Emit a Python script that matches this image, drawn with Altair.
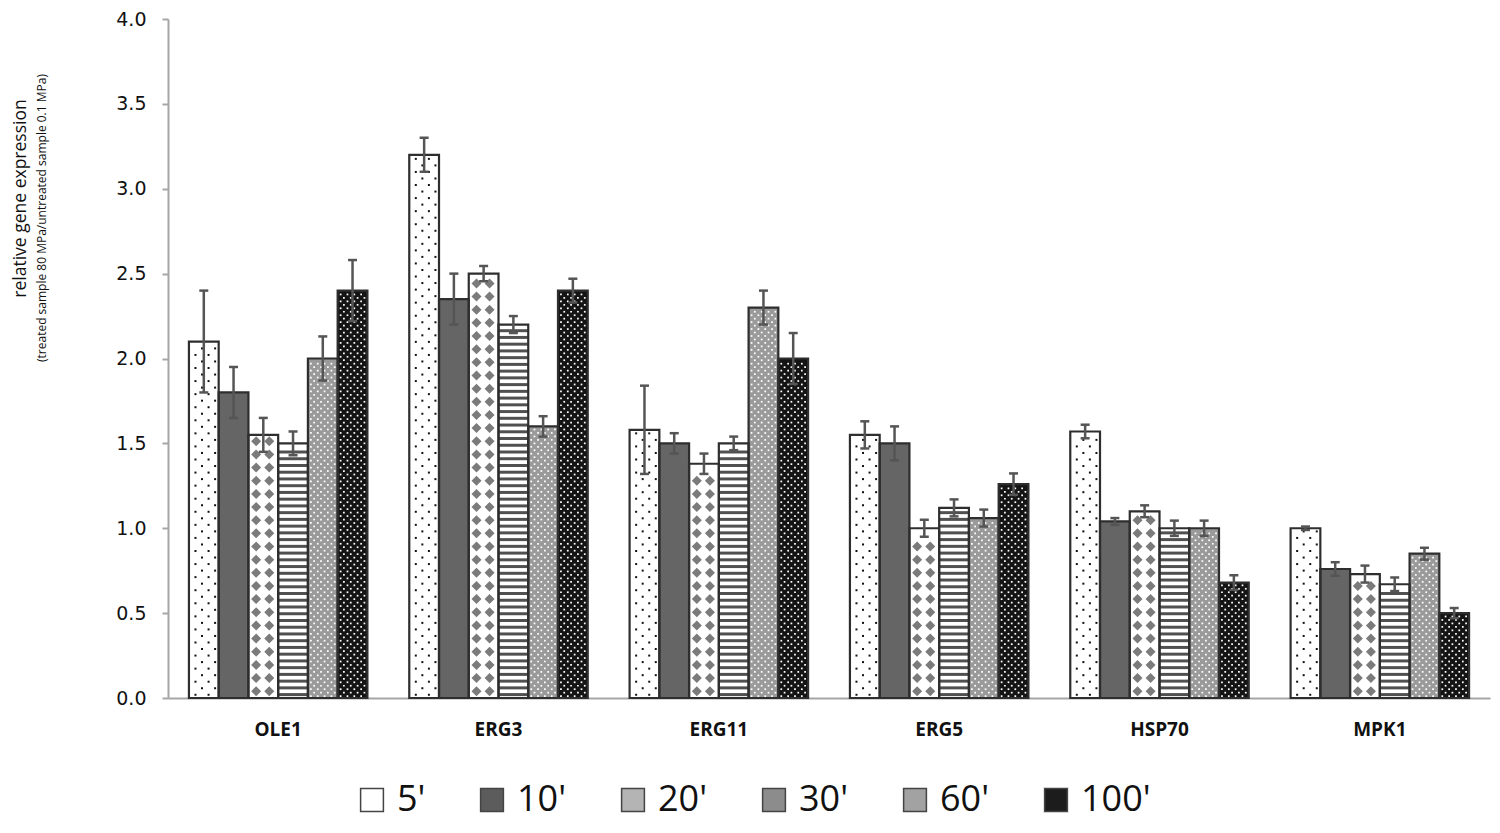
import altair as alt
import pandas as pd

genes = ["OLE1", "ERG3", "ERG11", "ERG5", "HSP70", "MPK1"]
times = ["5'", "10'", "20'", "30'", "60'", "100'"]

# mean relative expression per time point (across genes)
v5 = [2.10, 3.20, 1.58, 1.55, 1.57, 1.00]
v10 = [1.80, 2.35, 1.50, 1.50, 1.04, 0.76]
v20 = [1.55, 2.50, 1.38, 1.00, 1.10, 0.73]
v30 = [1.50, 2.20, 1.50, 1.12, 1.00, 0.67]
v60 = [2.00, 1.60, 2.30, 1.06, 1.00, 0.85]
v100 = [2.40, 2.40, 2.00, 1.26, 0.68, 0.50]

# error bar half-lengths
e5 = [0.30, 0.10, 0.26, 0.08, 0.04, 0.01]
e10 = [0.15, 0.15, 0.06, 0.10, 0.02, 0.04]
e20 = [0.10, 0.045, 0.06, 0.05, 0.035, 0.05]
e30 = [0.07, 0.05, 0.04, 0.05, 0.045, 0.04]
e60 = [0.13, 0.06, 0.10, 0.05, 0.045, 0.035]
e100 = [0.18, 0.07, 0.15, 0.063, 0.043, 0.03]

base_colors = ["#ffffff", "#656565", "#ffffff", "#ffffff", "#9a9a9a", "#141414"]
legend_colors = ["#ffffff", "#5c5c5c", "#b4b4b4", "#8c8c8c", "#a2a2a2", "#1c1c1c"]

title1 = "relative gene expression"
title2 = "(treated sample 80 MPa/untreated sample 0.1 MPa)"

V = [v5, v10, v20, v30, v60, v100]
E = [e5, e10, e20, e30, e60, e100]
rows = []
for ti, t in enumerate(times):
    for gi, g in enumerate(genes):
        rows.append({"gene": g, "time": t, "ti": ti, "value": V[ti][gi],
                     "lo": V[ti][gi] - E[ti][gi], "hi": V[ti][gi] + E[ti][gi]})
df = pd.DataFrame(rows)

AX = "#a6a6a6"
X = alt.X("gene:N", sort=genes,
          scale=alt.Scale(paddingInner=0.19, paddingOuter=0.095),
          axis=alt.Axis(title=None, labelAngle=0, labelFont="Open Sans",
                        labelFontWeight="bold", labelFontSize=19, labelColor="#111",
                        ticks=False, domainColor=AX, domainWidth=2, labelPadding=22))
Y = alt.Y("value:Q", scale=alt.Scale(domain=[0, 4], nice=False),
          axis=alt.Axis(values=[0, 0.5, 1, 1.5, 2, 2.5, 3, 3.5, 4], format=".1f",
                        labelFont="DejaVu Sans", labelFontSize=19, labelColor="#111",
                        domainColor=AX, domainWidth=2, tickColor=AX, tickWidth=2,
                        tickSize=6, labelPadding=16, grid=False,
                        title=title1, titleFont="Open Sans", titleFontSize=17.5,
                        titleFontWeight="normal", titleColor="#111", titleAngle=270,
                        titleX=-148, titleY=179, titleAlign="center",
                        titleBaseline="middle"))
XO = alt.XOffset("time:N", sort=times)
OFFQ = alt.Scale(domain=[0, 6], range=[0, {"expr": "bandwidth('x')"}], nice=False, zero=False)

base = alt.Chart(df)

bars = base.mark_bar(strokeWidth=0).encode(
    x=X, xOffset=XO, y=Y,
    fill=alt.Fill("time:N", sort=times,
                  scale=alt.Scale(range=base_colors), legend=None))

# zero-height bars that only carry the legend
legend_layer = base.mark_bar(strokeWidth=0).encode(
    x=X, xOffset=XO, y=Y, y2=alt.Y2("value:Q"),
    color=alt.Color("time:N", sort=times,
                    scale=alt.Scale(domain=times, range=legend_colors),
                    legend=alt.Legend(title=None, orient="none", legendX=186, legendY=763,
                                      direction="horizontal", columns=6, gridAlign="none",
                                      symbolType="square", symbolSize=520,
                                      symbolOpacity=1, symbolStrokeColor="#444",
                                      symbolStrokeWidth=1.5, labelFont="Open Sans",
                                      labelFontSize=36, labelColor="#111",
                                      labelOffset=7, columnPadding=48, padding=0)))


def dots(ti, r0, step, even, odd, color, size):
    return base.transform_filter(f"datum.ti == {ti}").transform_calculate(
        r=f"sequence({r0}, datum.value - 0.012, {step})"
    ).transform_flatten(["r"]).transform_calculate(
        k=f"round((datum.r - {r0}) / {step})"
    ).transform_calculate(
        c=f"datum.k % 2 == 0 ? {even} : {odd}"
    ).transform_flatten(["c"]).transform_calculate(
        ox="datum.ti + datum.c"
    ).mark_square(size=size, color=color, opacity=1, strokeWidth=0).encode(
        x=X, xOffset=alt.XOffset("ox:Q", scale=OFFQ), y=alt.Y("r:Q"))


dots5 = dots(0, 0.019, 0.0385, "[0.22, 0.66]", "[0.44, 0.88]", "#111", 4)
dots60 = dots(4, 0.011, 0.0204, "[0.1, 0.33, 0.56, 0.79]", "[0.21, 0.44, 0.67, 0.9]", "#ffffff", 3)
dots100 = dots(5, 0.011, 0.0204, "[0.1, 0.33, 0.56, 0.79]", "[0.21, 0.44, 0.67, 0.9]", "#ffffff", 3)

diamonds = base.transform_filter("datum.ti == 2").transform_calculate(
    r="sequence(0.04, datum.value - 0.03, 0.0775)"
).transform_flatten(["r"]).transform_calculate(
    c="[0.26, 0.7]"
).transform_flatten(["c"]).transform_calculate(
    ox="datum.ti + datum.c"
).mark_point(shape="diamond", filled=True, size=100, color="#7b7b7b", opacity=1,
             strokeWidth=0).encode(
    x=X, xOffset=alt.XOffset("ox:Q", scale=OFFQ), y=alt.Y("r:Q"))

stripes = base.transform_filter("datum.ti == 3").transform_calculate(
    r="sequence(0.02, datum.value - 0.02, 0.0397)"
).transform_flatten(["r"]).transform_calculate(
    ox="datum.ti + 0.5"
).mark_tick(thickness=3, size=29, color="#505050", opacity=1).encode(
    x=X, xOffset=alt.XOffset("ox:Q", scale=OFFQ), y=alt.Y("r:Q"))

outline = base.mark_bar(fillOpacity=0, stroke="#2e2e2e", strokeWidth=2.2).encode(
    x=X, xOffset=XO, y=Y)

err_rule = base.mark_rule(color="#555", strokeWidth=2.5).encode(
    x=X, xOffset=XO, y=alt.Y("lo:Q"), y2="hi:Q")
cap_hi = base.mark_tick(color="#555", thickness=2.5, size=9, opacity=1).encode(
    x=X, xOffset=XO, y=alt.Y("hi:Q"))
cap_lo = base.mark_tick(color="#555", thickness=2.5, size=9, opacity=1).encode(
    x=X, xOffset=XO, y=alt.Y("lo:Q"))

sub_title = alt.Chart(pd.DataFrame({"t": [title2]})).mark_text(
    angle=270, font="Open Sans", fontSize=12, color="#111",
    align="center", baseline="middle").encode(
    x=alt.value(-126), y=alt.value(199), text="t:N")

chart = alt.layer(
    bars, legend_layer, dots5, dots60, dots100, diamonds, stripes, outline,
    err_rule, cap_hi, cap_lo, sub_title
).resolve_scale(xOffset="independent").properties(
    width=1322, height=679,
    padding={"left": 160, "top": 11, "right": 2, "bottom": 127},
    autosize=alt.AutoSizeParams(type="none"),
).configure_view(stroke=None)

chart.save("out.html", embed_options={"renderer": "svg", "actions": False})
